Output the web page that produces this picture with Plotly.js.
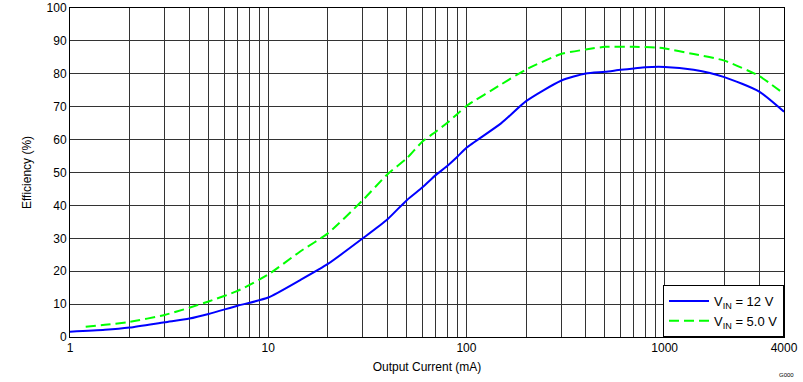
<!DOCTYPE html>
<html>
<head>
<meta charset="utf-8">
<script src="https://cdn.plot.ly/plotly-3.0.1.min.js"></script>
<style>html,body{margin:0;padding:0;background:#fff;}#chart{width:803px;height:382px;}</style>
</head>
<body>
<div id="chart"></div>
<script>
var xBlue = [1, 1.5, 2, 3, 4, 5, 7, 10, 14.5, 20, 30, 40, 50, 60, 70, 80, 90, 100, 150, 200, 300, 400, 500, 600, 700, 800, 1000, 1400, 2000, 3000, 4000];
var yBlue = [1.6, 2.2, 2.9, 4.5, 5.6, 7, 9.5, 12, 17.3, 22.2, 30, 35.8, 41.6, 45.5, 49.2, 52, 54.8, 57.5, 65, 71.7, 77.9, 80.1, 80.6, 81.2, 81.6, 82, 82.1, 81.2, 79, 74.6, 68.5];
var xGreen = [1.2, 1.5, 2, 3, 4, 5, 7, 10, 14.5, 20, 30, 40, 50, 60, 70, 80, 90, 100, 150, 200, 300, 400, 500, 700, 900, 1000, 1400, 2000, 3000, 4000];
var yGreen = [3.1, 3.7, 4.6, 6.7, 8.9, 10.8, 14, 19, 26, 31.5, 41.6, 49.5, 54.3, 59.4, 62.4, 65.1, 67.8, 70.2, 76.8, 81.3, 86, 87.4, 88.2, 88.2, 88, 87.7, 86, 84, 79.3, 73.9];
var xLabeled = [1, 10, 100, 1000, 4000];
var yTicks = [0, 10, 20, 30, 40, 50, 60, 70, 80, 90, 100];
var seriesNames = ['V<sub>IN</sub> = 12 V', 'V<sub>IN</sub> = 5.0 V'];

var xMinor = [];
[1, 10, 100, 1000].forEach(function (d) {
  for (var k = 2; k <= 9; k++) { if (d * k < 4000) xMinor.push(d * k); }
});

var font = {family: 'Liberation Sans, Arial, sans-serif', size: 12, color: '#000'};

var data = [
  {x: xBlue, y: yBlue, mode: 'lines', name: seriesNames[0], line: {color: '#0000FF', width: 2, shape: 'spline', smoothing: 0.6}},
  {x: xGreen, y: yGreen, mode: 'lines', name: seriesNames[1], line: {color: '#00FF00', width: 2, dash: '10px,5px', shape: 'spline', smoothing: 0.6}}
];

var layout = {
  width: 803, height: 382,
  margin: {l: 70, r: 19, t: 8, b: 45},
  paper_bgcolor: '#fff', plot_bgcolor: '#fff',
  font: font,
  showlegend: true,
  legend: {x: 1, y: 0, xanchor: 'right', yanchor: 'bottom', bgcolor: '#fff', bordercolor: '#000', borderwidth: 1, font: {family: font.family, size: 13, color: '#000'}, tracegroupgap: 0, itemwidth: 40},
  xaxis: {
    type: 'log', range: [0, Math.log10(4000)],
    tickmode: 'array', tickvals: xLabeled, ticktext: xLabeled.map(String),
    showgrid: true, gridcolor: '#333', gridwidth: 1,
    minor: {tickmode: 'array', tickvals: xMinor, showgrid: true, gridcolor: '#333', gridwidth: 1, ticks: ''},
    showline: true, linecolor: '#000', linewidth: 1, mirror: true,
    ticks: '', zeroline: false,
    title: {text: 'Output Current (mA)', font: font, standoff: 8},
    tickfont: font
  },
  yaxis: {
    range: [0, 100], tickmode: 'array', tickvals: yTicks,
    showgrid: true, gridcolor: '#333', gridwidth: 1,
    showline: true, linecolor: '#000', linewidth: 1, mirror: true,
    ticks: '', zeroline: false,
    title: {text: 'Efficiency (%)', font: font, standoff: 12},
    tickfont: font
  },
  annotations: [
    {text: 'G000', xref: 'paper', yref: 'paper', x: 1.017, y: -0.1, xanchor: 'right', yanchor: 'top', showarrow: false, font: {family: font.family, size: 6, color: '#000'}}
  ]
};

Plotly.newPlot('chart', data, layout, {staticPlot: true, displayModeBar: false});
</script>
</body>
</html>
